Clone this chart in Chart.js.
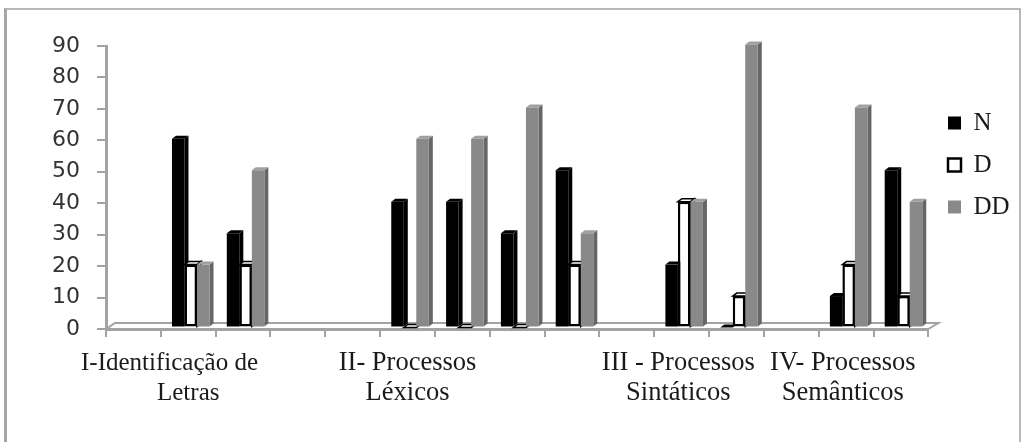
<!DOCTYPE html>
<html><head><meta charset="utf-8">
<script src="https://cdn.jsdelivr.net/npm/chart.js@4/dist/chart.umd.min.js"></script>
<style>
html,body{margin:0;padding:0;background:#fff;overflow:hidden}
#wrap{position:relative;width:1021px;height:442px}
#frame{position:absolute;left:4px;top:8px;width:1017px;height:440px;border-left:3px solid #a6a6a6;border-top:2px solid #b8b8b8;border-right:2px solid #b8b8b8;box-sizing:border-box}
canvas{position:absolute;left:0;top:0;filter:blur(0.4px)}
</style></head><body>
<div id="wrap"><div id="frame"></div><canvas id="c" width="1021" height="442"></canvas></div>
<script>
const NB = '\u00A0';
const categories = [
  '', [ 'I-Identificação de' + NB.repeat(6), 'Letras' ], '', '', '',
  [ 'II- Processos', 'Léxicos' ], '', '', '', '',
  [ 'III - Processos' + NB, 'Sintáticos' + NB ], '', '',
  [ 'IV- Processos' + NB, 'Semânticos' + NB ], ''
];
const seriesN  = [null, 60, 30, null, null, 40, 40, 30, 50, null, 20, 0, null, 10, 50];
const seriesD  = [null, 20, 20, null, null, 0, 0, 0, 20, null, 40, 10, null, 20, 10];
const seriesDD = [null, 20, 50, null, null, 60, 60, 70, 30, null, 40, 90, null, 70, 40];
const yTicks = [0,10,20,30,40,50,60,70,80,90];
const DX = 4, DY = 3, SHIFT_X = 2.5, SHIFT_Y = -1.5;

const faces = {
  '#000000': {side:'#000000', top:'#000000'},
  '#ffffff': {side:'#ffffff', top:'#ffffff'},
  '#898989': {side:'#666666', top:'#a0a0a0'}
};
const bars3d = {
  id:'bars3d',
  afterLayout(chart){
    const lg = chart.legend;
    const w = lg.right - lg.left;
    lg.left = 931; lg.right = 931 + w;
    lg.top = 0; lg.bottom = 330;
  },
  beforeDatasetsDraw(chart){
    const ctx = chart.ctx, y0 = chart.scales.y.getPixelForValue(0);
    const xs = chart.scales.x;
    ctx.save();
    ctx.strokeStyle='#a3a3a3'; ctx.lineWidth=2;
    ctx.beginPath();
    ctx.moveTo(xs.left, y0);
    ctx.lineTo(xs.left+9, y0-6);
    ctx.lineTo(xs.right+10, y0-6);
    ctx.lineTo(xs.right, y0);
    ctx.stroke();
    ctx.restore();
    ctx.save();
    ctx.translate(SHIFT_X,SHIFT_Y);
    chart.data.datasets.forEach((ds,i)=>{
      const meta = chart.getDatasetMeta(i);
      const f = faces[ds.backgroundColor];
      const outlined = ds.borderWidth>0;
      meta.data.forEach((el,j)=>{
        if(ds.data[j]===null) return;
        const p = el.getProps(['x','y','base','width'],true);
        const l=p.x-p.width/2, r=p.x+p.width/2, t=p.y, b=p.base;
        ctx.save();
        ctx.fillStyle=f.side;
        ctx.strokeStyle='#000'; ctx.lineWidth=1.5;
        ctx.beginPath();
        ctx.moveTo(r,t);ctx.lineTo(r+DX,t-DY);ctx.lineTo(r+DX,b-DY);ctx.lineTo(r,b);ctx.closePath();
        ctx.fill(); if(outlined) ctx.stroke();
        ctx.fillStyle=f.top;
        ctx.beginPath();
        ctx.moveTo(l,t);ctx.lineTo(l+DX,t-DY);ctx.lineTo(r+DX,t-DY);ctx.lineTo(r,t);ctx.closePath();
        ctx.fill(); if(outlined) ctx.stroke();
        ctx.restore();
        el.draw(ctx, chart.chartArea);
      });
    });
    ctx.restore();
    return false;
  }
};

new Chart(document.getElementById('c'),{
  type:'bar',
  data:{labels:categories,datasets:[
    {label:'N',data:seriesN,backgroundColor:'#000000',borderColor:'#000000',borderWidth:0},
    {label:'D',data:seriesD,backgroundColor:'#ffffff',borderColor:'#000000',borderWidth:2.5,borderSkipped:false},
    {label:'DD',data:seriesDD,backgroundColor:'#898989',borderColor:'#898989',borderWidth:0}
  ]},
  options:{
    responsive:false,animation:false,devicePixelRatio:1,
    layout:{padding:{left:0,top:46,right:4,bottom:23}},
    datasets:{bar:{categoryPercentage:0.685,barPercentage:1}},
    plugins:{
      tooltip:{enabled:false},
      legend:{
        position:'right',
        labels:{
          boxWidth:13,boxHeight:13,padding:17,color:'#1a1a1a',
          font:{family:'"Liberation Serif"',size:25},
          generateLabels(chart){
            return chart.data.datasets.map((d,i)=>({text:d.label,fillStyle:d.backgroundColor,strokeStyle:'#000',lineWidth:i===1?2.5:0,datasetIndex:i,fontColor:'#1a1a1a'}));
          }
        }
      }
    },
    scales:{
      x:{
        grid:{display:true,drawOnChartArea:false,drawTicks:true,tickLength:8,color:'#a3a3a3',lineWidth:2,offset:true},
        border:{color:'#a3a3a3',width:3},
        ticks:{autoSkip:false,maxRotation:0,minRotation:0,padding:11,color:'#1a1a1a',
          font:(c)=>({family:'"Liberation Serif"',size:c.index===1?25:26.5,lineHeight:'30px'})}
      },
      y:{
        min:0,max:90,
        afterBuildTicks(s){ s.ticks = yTicks.map(v=>({value:v})); },
        afterFit(s){ s.width=106; },
        grid:{display:true,drawOnChartArea:false,drawTicks:true,tickLength:9,color:'#a3a3a3',lineWidth:2},
        border:{color:'#a3a3a3',width:3},
        ticks:{padding:17,color:'#333333',font:{family:'"DejaVu Sans"',size:22}}
      }
    }
  },
  plugins:[bars3d]
});
</script></body></html>
